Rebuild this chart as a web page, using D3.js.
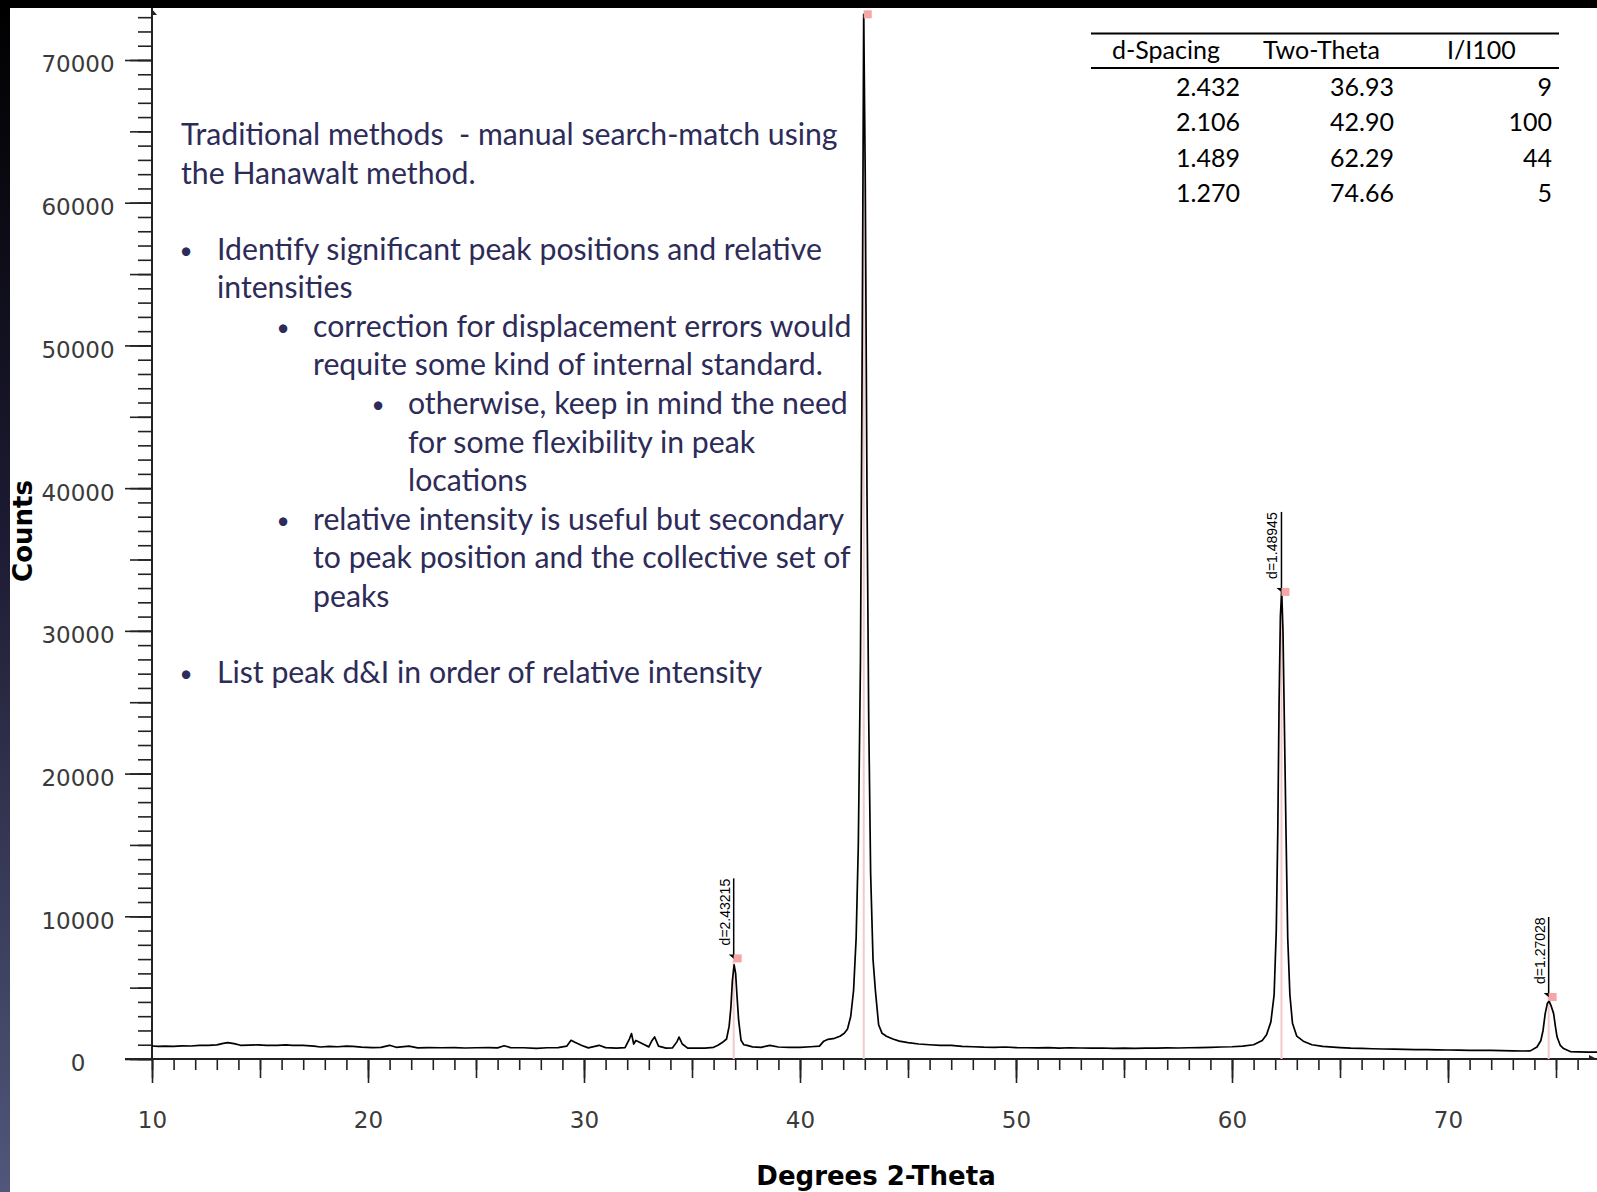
<!DOCTYPE html>
<html>
<head>
<meta charset="utf-8">
<script src="https://cdn.jsdelivr.net/npm/d3@7"></script>
<style>
  body { margin: 0; background: #fff; }
  svg { display: block; }
</style>
</head>
<body>
<div id="chart"></div>
<script>
// diffraction scan: [two-theta, counts]
const scan = [
  [10.0, 910], [10.3, 880], [10.6, 900], [11.0, 890], [11.4, 920], [11.8, 910], [12.2, 960], [12.6, 950],
  [13.0, 990], [13.3, 1100], [13.5, 1150], [13.8, 1080], [14.1, 960], [14.5, 970], [14.9, 990], [15.3, 950],
  [15.8, 960], [16.2, 990], [16.5, 960], [17.0, 950], [17.5, 900], [17.8, 840], [18.2, 880], [18.6, 860],
  [19.0, 900], [19.3, 880], [19.7, 830], [20.2, 800], [20.6, 820], [21.0, 960], [21.3, 820], [21.9, 900],
  [22.3, 780], [22.8, 800], [23.4, 790], [24.0, 800], [24.5, 770], [25.0, 790], [25.6, 800], [26.0, 780],
  [26.3, 930], [26.6, 800], [27.2, 790], [27.8, 740], [28.3, 790], [28.8, 800], [29.2, 900], [29.4, 1310],
  [29.6, 1150], [29.9, 950], [30.2, 780], [30.7, 960], [31.0, 800], [31.5, 760], [31.9, 800], [32.1, 1400],
  [32.2, 1780], [32.3, 1050], [32.4, 1300], [32.55, 1190], [32.8, 1000], [33.0, 850], [33.15, 1300], [33.27, 1540],
  [33.45, 900], [33.8, 760], [34.1, 780], [34.3, 1200], [34.4, 1540], [34.55, 1050], [34.8, 760], [35.2, 770],
  [35.6, 760], [36.0, 820], [36.2, 960], [36.4, 1150], [36.6, 1400], [36.72, 2300], [36.8, 3600], [36.87, 5500],
  [36.95, 6600], [37.02, 6000], [37.08, 4500], [37.16, 2700], [37.27, 1310], [37.4, 1000], [37.55, 950], [37.8, 850],
  [38.2, 820], [38.6, 960], [39.0, 840], [39.5, 810], [40.0, 820], [40.5, 860], [40.9, 900], [41.1, 1250],
  [41.3, 1380], [41.6, 1450], [41.85, 1600], [42.05, 1800], [42.2, 2100], [42.35, 3000], [42.48, 4800], [42.6, 8500],
  [42.7, 15000], [42.8, 28000], [42.88, 50000], [42.95, 73200], [43.02, 62000], [43.1, 40000], [43.18, 24000], [43.27, 13000],
  [43.38, 7000], [43.49, 4800], [43.64, 2400], [43.8, 1800], [44.0, 1600], [44.3, 1400], [44.6, 1250], [45.0, 1150],
  [45.5, 1050], [46.0, 1000], [46.5, 960], [47.0, 950], [47.5, 880], [48.0, 860], [48.5, 830], [49.0, 820],
  [49.5, 840], [50.0, 800], [50.5, 790], [51.0, 780], [51.5, 800], [52.0, 760], [52.5, 790], [53.0, 770],
  [53.5, 760], [54.0, 770], [54.5, 750], [55.0, 760], [55.5, 740], [56.0, 760], [56.5, 760], [57.0, 780],
  [57.5, 770], [58.0, 790], [58.5, 800], [59.0, 820], [59.5, 840], [60.0, 860], [60.5, 900], [61.0, 1000],
  [61.4, 1300], [61.6, 1700], [61.8, 2600], [61.95, 4500], [62.05, 9000], [62.12, 16000], [62.18, 25000], [62.24, 31000],
  [62.30, 32800], [62.36, 30000], [62.42, 24000], [62.5, 16000], [62.58, 8500], [62.68, 4500], [62.8, 2500], [63.0, 1600],
  [63.3, 1250], [63.7, 1000], [64.2, 880], [65.0, 800], [65.5, 760], [66.0, 740], [66.5, 720], [67.0, 700],
  [67.5, 690], [68.0, 680], [68.5, 660], [69.0, 650], [69.5, 640], [70.0, 630], [70.5, 620], [71.0, 610],
  [71.5, 600], [72.0, 600], [72.5, 580], [73.0, 570], [73.5, 560], [73.81, 570], [74.12, 840], [74.3, 1300],
  [74.4, 2000], [74.5, 3180], [74.6, 3900], [74.68, 4050], [74.78, 3700], [74.89, 3180], [74.97, 2300], [75.05, 1540],
  [75.2, 950], [75.35, 730], [75.66, 520], [76.0, 500], [76.5, 480], [76.9, 480]
];

// picked peaks
const peakTheta = [36.93, 42.95, 62.29, 74.66];
const peakTop = [7050, 73200, 32730, 4345];
const peakLabel = ['d=2.43215', null, 'd=1.48945', 'd=1.27028'];

const xTickLabels = [10, 20, 30, 40, 50, 60, 70];
const yTickLabels = [0, 10000, 20000, 30000, 40000, 50000, 60000, 70000];

// table in the top right
const tableHeader = ['d-Spacing', 'Two-Theta', 'I/I100'];
const dSpacing = ['2.432', '2.106', '1.489', '1.270'];
const twoTheta = ['36.93', '42.90', '62.29', '74.66'];
const relIntensity = ['9', '100', '44', '5'];

const notes = [
  {text: 'Traditional methods  - manual search-match using', level: 0},
  {text: 'the Hanawalt method.', level: 0},
  {text: 'Identify significant peak positions and relative', level: 1, bullet: true, gap: true},
  {text: 'intensities', level: 1},
  {text: 'correction for displacement errors would', level: 2, bullet: true},
  {text: 'requite some kind of internal standard.', level: 2},
  {text: 'otherwise, keep in mind the need', level: 3, bullet: true},
  {text: 'for some flexibility in peak', level: 3},
  {text: 'locations', level: 3},
  {text: 'relative intensity is useful but secondary', level: 2, bullet: true},
  {text: 'to peak position and the collective set of', level: 2},
  {text: 'peaks', level: 2},
  {text: 'List peak d&I in order of relative intensity', level: 1, bullet: true, gap: true}
];

class DiffractionPlot {

    constructor(_config, _data) {
        this.config = {
            parentElement: _config.parentElement,
            containerWidth: _config.containerWidth || 1597,
            containerHeight: _config.containerHeight || 1192,
            margin: _config.margin || {top: 60, right: 149, bottom: 133, left: 152}
        };
        this.data = _data;
        this.initVis();
    }

    initVis() {
        let vis = this;

        vis.width = vis.config.containerWidth - vis.config.margin.left - vis.config.margin.right;
        vis.height = vis.config.containerHeight - vis.config.margin.top - vis.config.margin.bottom;

        vis.svg = d3.select(vis.config.parentElement)
            .append('svg')
            .attr('width', vis.config.containerWidth)
            .attr('height', vis.config.containerHeight);

        // slide frame: dark strip on the left and top
        const grad = vis.svg.append('defs').append('linearGradient')
            .attr('id', 'edge').attr('x1', 0).attr('y1', 0).attr('x2', 0).attr('y2', 1);
        grad.append('stop').attr('offset', '0%').attr('stop-color', '#000');
        grad.append('stop').attr('offset', '45%').attr('stop-color', '#1d1b33');
        grad.append('stop').attr('offset', '100%').attr('stop-color', '#50577a');
        vis.svg.append('rect').attr('width', 10).attr('height', vis.config.containerHeight).attr('fill', 'url(#edge)');
        vis.svg.append('rect').attr('width', vis.config.containerWidth).attr('height', 8).attr('fill', '#000');

        vis.chart = vis.svg.append('g')
            .attr('transform', `translate(${vis.config.margin.left},${vis.config.margin.top})`);

        vis.xScale = d3.scaleLinear().domain([10, 70]).range([0, vis.width]);
        vis.yScale = d3.scaleLinear().domain([0, 70000]).range([vis.height, 0]);

        vis.xMax = vis.xScale.invert(vis.config.containerWidth - vis.config.margin.left);
        vis.yMax = vis.yScale.invert(8 - vis.config.margin.top);

        vis.drawAxes();
    }

    drawAxes() {
        let vis = this;
        const axisColor = '#222';

        const yLevels = [{step: 1000, size: 14}, {step: 5000, size: 22}, {step: 10000, size: 27}];
        yLevels.forEach(lv => {
            const vals = d3.range(0, vis.yMax, lv.step);
            const g = vis.chart.append('g')
                .call(d3.axisLeft(vis.yScale).tickValues(vals).tickSize(lv.size).tickFormat(''));
            g.select('.domain').remove();
            g.selectAll('line').attr('stroke', axisColor).attr('stroke-width', 1.6);
        });

        const yLab = vis.chart.append('g')
            .call(d3.axisLeft(vis.yScale).tickValues(yTickLabels).tickSize(0).tickFormat(d3.format('d')));
        yLab.select('.domain').remove();
        yLab.selectAll('text')
            .attr('x', 78 - vis.config.margin.left)
            .attr('dy', '0.52em')
            .attr('text-anchor', 'middle')
            .attr('fill', '#3a3a3a')
            .style('font-family', 'DejaVu Sans')
            .style('font-size', '23px');

        const xLevels = [{step: 1, size: 11}, {step: 5, size: 19}, {step: 10, size: 24}];
        xLevels.forEach(lv => {
            const vals = d3.range(10, vis.xMax, lv.step);
            const g = vis.chart.append('g')
                .attr('transform', `translate(0,${vis.height})`)
                .call(d3.axisBottom(vis.xScale).tickValues(vals).tickSize(lv.size).tickFormat(''));
            g.select('.domain').remove();
            g.selectAll('line').attr('stroke', axisColor).attr('stroke-width', 1.6);
        });

        const xLab = vis.chart.append('g')
            .attr('transform', `translate(0,${vis.height})`)
            .call(d3.axisBottom(vis.xScale).tickValues(xTickLabels).tickSize(0).tickFormat(d3.format('d')));
        xLab.select('.domain').remove();
        xLab.selectAll('text')
            .attr('y', 69)
            .attr('dy', 0)
            .attr('fill', '#3a3a3a')
            .style('font-family', 'DejaVu Sans')
            .style('font-size', '23px');

        const top = vis.yScale(vis.yMax);
        const right = vis.xScale(vis.xMax);
        vis.chart.append('line')
            .attr('x1', 0).attr('x2', 0).attr('y1', top).attr('y2', vis.height)
            .attr('stroke', axisColor).attr('stroke-width', 2);
        vis.chart.append('line')
            .attr('x1', -27).attr('x2', right).attr('y1', vis.height).attr('y2', vis.height)
            .attr('stroke', axisColor).attr('stroke-width', 2);
        vis.chart.append('path')
            .attr('d', `M-1,${top} L5,${top + 7} L-1,${top + 7} Z`)
            .attr('fill', axisColor);
        vis.chart.append('path')
            .attr('d', `M${right},${vis.height} L${right - 8},${vis.height - 4} L${right - 8},${vis.height} Z`)
            .attr('fill', axisColor);

        vis.svg.append('text')
            .attr('transform', `translate(32,531) rotate(-90)`)
            .attr('text-anchor', 'middle')
            .style('font-family', 'DejaVu Sans')
            .style('font-weight', 'bold')
            .style('font-size', '26px')
            .text('Counts');

        vis.svg.append('text')
            .attr('x', 876).attr('y', 1185)
            .attr('text-anchor', 'middle')
            .style('font-family', 'DejaVu Sans')
            .style('font-weight', 'bold')
            .style('font-size', '26px')
            .text('Degrees 2-Theta');
    }

    renderVis() {
        let vis = this;

        const peaks = peakTheta.map((t, i) => ({theta: t, top: peakTop[i], label: peakLabel[i]}));

        // pink reference lines under the trace
        vis.chart.selectAll('.peak-line')
            .data(peaks)
            .join('line')
            .attr('class', 'peak-line')
            .attr('x1', d => vis.xScale(d.theta)).attr('x2', d => vis.xScale(d.theta))
            .attr('y1', d => vis.yScale(d.top)).attr('y2', vis.height)
            .attr('stroke', '#f3c9c9')
            .attr('stroke-width', 2);

        vis.chart.append('path')
            .datum(vis.data)
            .attr('d', d3.line().x(d => vis.xScale(d[0])).y(d => vis.yScale(d[1])))
            .attr('fill', 'none')
            .attr('stroke', '#000')
            .attr('stroke-width', 1.7)
            .attr('stroke-linejoin', 'round');

        const marks = vis.chart.selectAll('.peak-mark')
            .data(peaks)
            .join('g')
            .attr('class', 'peak-mark')
            .attr('transform', d => `translate(${vis.xScale(d.theta)},${vis.yScale(d.top)})`);

        marks.filter(d => d.label)
            .append('line')
            .attr('x1', 0).attr('x2', 0).attr('y1', -80).attr('y2', -3)
            .attr('stroke', '#000').attr('stroke-width', 1.5);
        marks.filter(d => d.label)
            .append('path')
            .attr('d', 'M-5,-4 L1,-4 L1,1 Z')
            .attr('fill', '#000');
        marks.append('rect')
            .attr('x', 0).attr('y', -4).attr('width', 8).attr('height', 8)
            .attr('fill', '#f5a6a6');
        marks.filter(d => d.label)
            .append('text')
            .attr('transform', 'translate(-4,-13) rotate(-90)')
            .style('font-family', 'Liberation Sans')
            .style('font-size', '14px')
            .text(d => d.label);
    }
}

function drawNotes(svg) {
    const color = '#2d2b58';
    const indent = [{text: 181}, {bullet: 186, text: 217}, {bullet: 283, text: 313}, {bullet: 378, text: 408}];
    const g = svg.append('g')
        .style('font-family', 'Lato')
        .attr('fill', color);

    const probe = g.append('text').style('font-size', '30px').style('white-space', 'pre').text(notes[0].text);
    const size = 30 * 657 / probe.node().getComputedTextLength();
    probe.remove();

    let y = 135.5;
    notes.forEach((n, i) => {
        if (i > 0) y += 38.6 + (n.gap ? 37 : 0);
        const base = y + 0.33 * size;
        if (n.bullet) {
            g.append('text').attr('x', indent[n.level].bullet).attr('y', base - 1)
                .attr('text-anchor', 'middle')
                .style('font-size', `${size * 0.75}px`).text('\u2022');
        }
        g.append('text').attr('x', indent[n.level].text).attr('y', base)
            .style('font-size', `${size}px`)
            .style('white-space', 'pre')
            .text(n.text);
    });
}

function drawTable(svg) {
    const g = svg.append('g')
        .style('font-family', 'Lato')
        .style('font-size', '25px')
        .attr('fill', '#000');

    [33.6, 68].forEach(y => {
        g.append('line').attr('x1', 1091).attr('x2', 1559).attr('y1', y).attr('y2', y)
            .attr('stroke', '#000').attr('stroke-width', 2);
    });

    const headX = [1112, 1263, 1447];
    tableHeader.forEach((h, i) => {
        g.append('text').attr('x', headX[i]).attr('y', 59).text(h);
    });

    const colRight = [1240, 1394, 1552];
    [dSpacing, twoTheta, relIntensity].forEach((col, c) => {
        col.forEach((v, r) => {
            g.append('text')
                .attr('x', colRight[c])
                .attr('y', 95.6 + r * 35.6)
                .attr('text-anchor', 'end')
                .text(v);
        });
    });
}

const plot = new DiffractionPlot({parentElement: '#chart'}, scan);
plot.renderVis();
drawNotes(plot.svg);
drawTable(plot.svg);
</script>
</body>
</html>
